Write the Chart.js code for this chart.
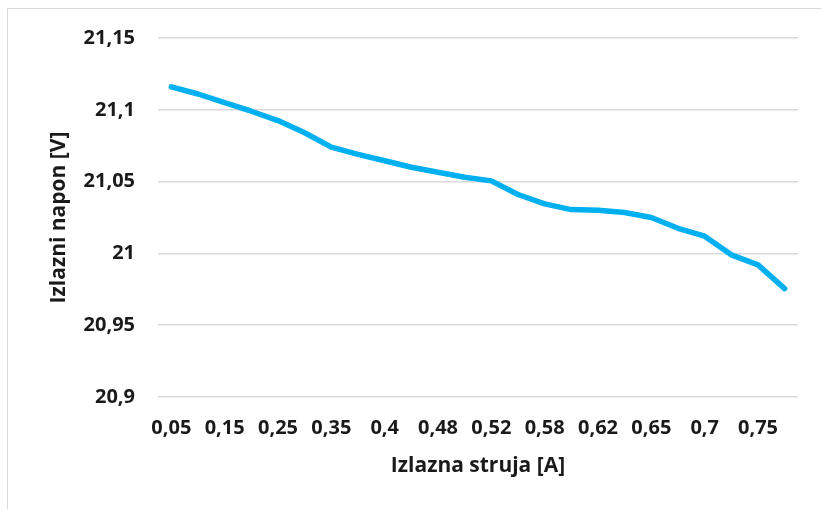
<!DOCTYPE html>
<html>
<head>
<meta charset="utf-8">
<script src="https://cdn.jsdelivr.net/npm/chart.js@4"></script>
<style>
  body { margin: 0; background: #fff; }
  #frame { position: absolute; left: 7px; top: 8px; right: 0; bottom: 0;
           border-left: 1px solid #d9d9d9; border-top: 1px solid #d9d9d9; }
  #wrap { position: absolute; left: 0; top: 0; width: 821px; height: 509px; }
</style>
</head>
<body>
<div id="frame"></div>
<div id="wrap"><canvas id="chart"></canvas></div>
<script>
const struja = ['0,05', '0,1', '0,15', '0,2', '0,25', '0,3', '0,35', '0,38', '0,4', '0,45', '0,48', '0,5',
                '0,52', '0,55', '0,58', '0,6', '0,62', '0,64', '0,65', '0,68', '0,7', '0,72', '0,75', '0,78'];
const napon = [21.116, 21.111, 21.105, 21.099, 21.0925, 21.084, 21.074, 21.069, 21.0645, 21.06, 21.0565, 21.053,
               21.0505, 21.041, 21.0345, 21.0305, 21.03, 21.0285, 21.025, 21.0175, 21.012, 20.999, 20.992, 20.9755];
const yTicks = [20.9, 20.95, 21, 21.05, 21.1, 21.15];

const xTitle = 'Izlazna struja [A]';
const yTitle = 'Izlazni napon [V]';
const fontFam = '"Open Sans", Lato, sans-serif';
const textColor = '#1a1a1a';

// axis titles, centred on the plot area like the original
const titles = {
  id: 'titles',
  afterDraw(chart) {
    const ctx = chart.ctx;
    const a = chart.chartArea;
    ctx.save();
    ctx.fillStyle = textColor;
    ctx.font = 'bold 21px ' + fontFam;
    ctx.textAlign = 'center';
    ctx.textBaseline = 'middle';
    ctx.fillText(xTitle, (a.left + a.right) / 2, 466);
    ctx.translate(59, (a.top + a.bottom) / 2);
    ctx.rotate(-Math.PI / 2);
    ctx.fillText(yTitle, 0, 0);
    ctx.restore();
  }
};

new Chart(document.getElementById('chart'), {
  type: 'line',
  data: {
    labels: struja,
    datasets: [{
      data: napon,
      borderColor: '#00b0f0',
      borderWidth: 5.5,
      pointRadius: 0,
      tension: 0,
      fill: false,
      borderCapStyle: 'round',
      borderJoinStyle: 'round'
    }]
  },
  options: {
    responsive: true,
    maintainAspectRatio: false,
    animation: false,
    layout: { padding: { left: 0, top: 38, right: 23, bottom: 0 } },
    plugins: { legend: { display: false }, tooltip: { enabled: false } },
    scales: {
      x: {
        offset: true,
        grid: { display: false, drawTicks: false },
        border: { display: false },
        afterFit(scale) { scale.height = 112; },
        ticks: {
          autoSkip: false,
          maxRotation: 0,
          padding: 19,
          color: textColor,
          font: { family: fontFam, size: 20, weight: 'bold' },
          callback: function(v, i) { return i % 2 === 0 ? this.getLabelForValue(v) : ''; }
        }
      },
      y: {
        min: 20.9,
        max: 21.15,
        afterFit(scale) { scale.width = 158; },
        afterBuildTicks(scale) { scale.ticks = yTicks.map(v => ({ value: v })); },
        grid: { color: '#d9d9d9', lineWidth: 1.5, drawTicks: false },
        border: { display: false },
        ticks: {
          padding: 23,
          color: textColor,
          font: { family: fontFam, size: 20, weight: 'bold' },
          callback: v => String(v).replace('.', ',')
        }
      }
    }
  },
  plugins: [titles]
});
</script>
</body>
</html>
